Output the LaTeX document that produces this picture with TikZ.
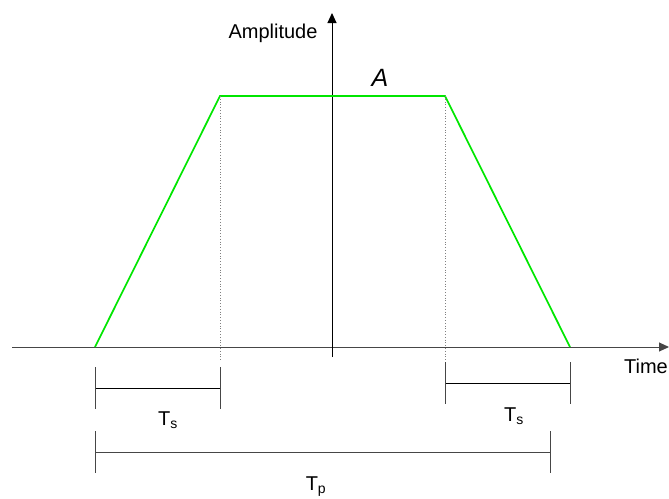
\documentclass[tikz,border=0pt]{standalone}
\usepackage{fontspec}
\setmainfont{Liberation Sans}
\definecolor{pulseGreen}{RGB}{0, 230, 0}
\definecolor{axisGray}{RGB}{70, 70, 70}
\usetikzlibrary{arrows.meta, positioning, calc}

\begin{document}
\begin{tikzpicture}[x=1pt, y=-1pt, every node/.style={font=\fontsize{20}{24}\selectfont, inner sep=0pt},
    axis/.style={line width=1pt, axisGray, -{Triangle[length=10pt, width=9pt]}},
    pulse/.style={line width=1.7pt, pulseGreen},
    guide/.style={line width=0.8pt, gray, dotted},
    span/.style={line width=0.9pt, black},
    tick/.style={line width=1pt, axisGray}]
        \useasboundingbox (0,0) rectangle (669,498);

        % axes
        \coordinate (xstart) at (12,347);
        \coordinate (xend) at (669,347);
        \coordinate (ystart) at (332,357);
        \coordinate (yend) at (332,13);
        \draw[axis] (xstart) -- (xend);
        \draw[axis, black] (ystart) -- (yend);
        \node (amp) at (273,33) {Amplitude};
        \node (time) at (646,366) {Time};

        % pulse
        \coordinate (p0) at (95,347);
        \coordinate (p1) at (220,96);
        \coordinate (p2) at (445,96);
        \coordinate (p3) at (570,347);
        \draw[pulse] (p0) -- (p1) -- (p2) -- (p3);
        \node[font=\fontsize{25}{30}\selectfont\itshape] (peak) at (380,78) {A};

        \coordinate (g1) at (220,360);
        \coordinate (g2) at (445,360);
        \draw[guide] (p1) -- (g1);
        \draw[guide] (p2) -- (g2);

        % rise time
        \coordinate (rs) at (95,388);
        \coordinate (re) at (220,388);
        \draw[span] (rs) -- (re);
        \draw[tick] ($(rs)+(0,-21)$) -- ($(rs)+(0,21)$);
        \draw[tick] ($(re)+(0,-21)$) -- ($(re)+(0,21)$);
        \node (rise) at (168,420) {T\textsubscript{s}};

        % fall time
        \coordinate (fs) at (445,383);
        \coordinate (fe) at (570,383);
        \draw[span] (fs) -- (fe);
        \draw[tick] ($(fs)+(0,-21)$) -- ($(fs)+(0,21)$);
        \draw[tick] ($(fe)+(0,-21)$) -- ($(fe)+(0,21)$);
        \node (fall) at (514,416) {T\textsubscript{s}};

        % pulse width
        \coordinate (ws) at (95,452);
        \coordinate (we) at (550,452);
        \draw[tick] (ws) -- (we);
        \draw[tick] ($(ws)+(0,-21)$) -- ($(ws)+(0,21)$);
        \draw[tick] ($(we)+(0,-21)$) -- ($(we)+(0,21)$);
        \node (width) at (316,487) {T\textsubscript{p}};
      \end{tikzpicture}
\end{document}
